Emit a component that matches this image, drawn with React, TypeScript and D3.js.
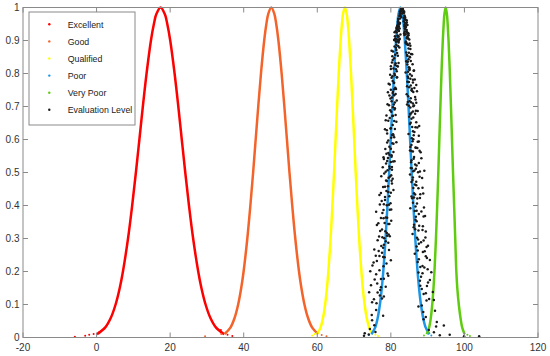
import React from 'react';
import * as d3 from 'd3';

const W = 550;
const H = 356;
const PL = 23, PR = 538, PT = 7.5, PB = 337.5;

const xTicks = [-20, 0, 20, 40, 60, 80, 100, 120];
const yTicks = [0, 0.1, 0.2, 0.3, 0.4, 0.5, 0.6, 0.7, 0.8, 0.9, 1];
const yTickLabels = ['0', '0.1', '0.2', '0.3', '0.4', '0.5', '0.6', '0.7', '0.8', '0.9', '1'];

const levelNames = ['Excellent', 'Good', 'Qualified', 'Poor', 'Very Poor'];
const levelColors = ['#ff0000', '#f4632a', '#ffff00', '#1e96e6', '#5fcc10'];
const blackName = 'Evaluation Level';
const blackColor = '#1a1a1a';

// membership levels of the branch samples
const branchY = [0.01, 0.03, 0.06, 0.1, 0.15, 0.2, 0.3, 0.4, 0.5, 0.6, 0.7, 0.8, 0.9, 0.95, 0.98];

const excellentLeft = [0.10, 2.31, 3.88, 5.17, 6.30, 7.17, 8.55, 9.68, 10.69, 11.64, 12.58, 13.59, 14.78, 15.58, 16.25];
const excellentPeak = 17.4;
const excellentRight = [34.70, 32.49, 30.92, 29.63, 28.50, 27.63, 26.25, 25.12, 24.11, 23.16, 22.22, 21.21, 20.02, 19.22, 18.55];

const goodLeft = [34.75, 36.38, 37.54, 38.49, 39.32, 39.97, 40.98, 41.81, 42.56, 43.25, 43.95, 44.69, 45.57, 46.16, 46.66];
const goodPeak = 47.5;
const goodRight = [60.25, 58.62, 57.46, 56.51, 55.68, 55.03, 54.02, 53.19, 52.44, 51.75, 51.05, 50.31, 49.43, 48.84, 48.34];

const qualifiedLeft = [59.91, 60.88, 61.57, 62.13, 62.63, 63.01, 63.62, 64.11, 64.56, 64.97, 65.39, 65.83, 66.35, 66.70, 67.00];
const qualifiedPeak = 67.5;
const qualifiedRight = [75.09, 74.12, 73.43, 72.87, 72.37, 71.99, 71.38, 70.89, 70.44, 70.03, 69.61, 69.17, 68.65, 68.30, 68.00];

const poorLeft = [74.71, 75.72, 76.43, 77.02, 77.54, 77.94, 78.56, 79.08, 79.54, 79.97, 80.40, 80.86, 81.41, 81.77, 82.08];
const poorPeak = 82.6;
const poorRight = [90.49, 89.48, 88.77, 88.18, 87.66, 87.26, 86.64, 86.12, 85.66, 85.23, 84.80, 84.34, 83.79, 83.43, 83.12];

const veryPoorLeft = [89.74, 90.40, 90.87, 91.25, 91.59, 91.85, 92.26, 92.60, 92.90, 93.18, 93.46, 93.76, 94.12, 94.36, 94.56];
const veryPoorPeak = 94.9;
const veryPoorRight = [100.06, 99.40, 98.93, 98.47, 98.06, 97.80, 97.50, 97.20, 96.90, 96.62, 96.34, 96.04, 95.68, 95.44, 95.24];

// sparse drops in the tails
const excellentTail = [[-5.9, 0.0], [-3.1, 0.003], [-2.0, 0.006], [-0.8, 0.008], [0.6, 0.013], [33.8, 0.02], [35.6, 0.006], [36.9, 0.002]];
const goodTail = [[29.5, 0.001], [33.9, 0.008], [35.2, 0.012], [61.2, 0.005], [62.5, 0.001]];
const qualifiedTail = [[58.6, 0.004], [59.3, 0.008], [75.8, 0.006], [76.5, 0.002]];
const poorTail = [[74.0, 0.005], [91.0, 0.004]];
const veryPoorTail = [[89.0, 0.004], [100.8, 0.006], [101.5, 0.002]];

// evaluation level cloud drops [x, y]
const evaluationDrops = [
  [83.2, 0.998], [82.8, 0.996],
  [82.6, 0.992], [83.5, 0.988], [83.3, 0.993], [82.4, 0.987],
  [83.4, 0.986], [82.5, 0.981], [83.6, 0.988], [82.6, 0.983],
  [82.3, 0.974], [83.5, 0.968], [83.8, 0.972], [82.0, 0.966], [82.6, 0.975],
  [83.7, 0.964], [82.0, 0.957], [82.5, 0.967], [83.8, 0.954], [84.3, 0.961],
  [82.2, 0.942], [84.3, 0.955], [83.7, 0.948], [82.0, 0.959], [83.9, 0.945], [82.5, 0.953],
  [81.8, 0.946], [83.8, 0.937], [84.1, 0.941], [81.6, 0.934], [82.1, 0.947], [83.7, 0.943],
  [84.4, 0.925], [81.9, 0.934], [83.8, 0.927], [81.8, 0.939], [84.8, 0.921], [82.0, 0.931],
  [81.6, 0.924], [83.7, 0.917], [84.2, 0.927], [82.0, 0.914], [84.6, 0.921], [82.1, 0.912], [81.0, 0.925],
  [84.3, 0.908], [81.8, 0.915], [82.3, 0.904], [84.5, 0.913], [81.2, 0.906], [84.0, 0.919],
  [81.6, 0.904], [84.1, 0.897], [84.7, 0.907], [82.1, 0.894], [81.0, 0.901], [84.3, 0.892], [82.4, 0.905],
  [81.4, 0.878], [84.3, 0.889], [85.3, 0.874], [82.0, 0.883], [84.8, 0.876], [81.5, 0.887],
  [81.7, 0.862], [85.1, 0.851], [84.2, 0.864], [81.2, 0.857], [80.2, 0.869], [84.5, 0.853],
  [84.8, 0.843], [82.1, 0.832], [80.9, 0.846], [84.5, 0.835], [80.5, 0.841], [84.2, 0.837], [85.2, 0.849],
  [81.2, 0.826], [85.1, 0.817], [84.5, 0.827], [80.0, 0.814], [81.9, 0.821], [85.0, 0.812],
  [84.7, 0.805], [80.4, 0.792], [81.6, 0.807], [85.2, 0.798], [86.3, 0.809], [81.1, 0.795], [84.0, 0.803],
  [80.5, 0.777], [84.7, 0.786], [80.9, 0.772], [86.0, 0.781], [84.9, 0.774], [81.6, 0.788],
  [85.4, 0.764], [81.2, 0.757], [79.7, 0.767], [85.7, 0.754], [84.4, 0.761], [80.9, 0.752], [86.9, 0.765],
  [81.3, 0.738], [85.6, 0.749], [80.8, 0.735], [86.1, 0.744], [84.3, 0.737], [80.6, 0.745],
  [79.9, 0.724], [85.1, 0.717], [80.3, 0.727], [84.6, 0.714], [86.7, 0.721], [81.1, 0.712], [85.4, 0.725],
  [80.6, 0.698], [86.0, 0.709], [81.1, 0.695], [79.5, 0.704], [85.3, 0.697], [84.4, 0.706], [86.1, 0.701],
  [80.1, 0.684], [85.2, 0.677], [86.8, 0.687], [81.3, 0.674], [85.6, 0.681], [80.6, 0.672],
  [79.7, 0.665], [85.0, 0.669], [78.6, 0.658], [85.6, 0.663], [81.5, 0.654], [86.1, 0.667],
  [80.5, 0.644], [86.7, 0.637], [85.2, 0.647], [80.0, 0.634], [87.7, 0.641], [81.1, 0.632],
  [86.0, 0.625], [80.3, 0.614], [78.9, 0.628], [84.8, 0.617], [86.4, 0.623], [80.7, 0.612],
  [85.7, 0.604], [79.3, 0.597], [80.9, 0.607], [87.6, 0.594], [86.1, 0.601], [81.5, 0.592], [80.1, 0.605],
  [79.6, 0.578], [85.6, 0.583], [87.2, 0.574], [80.7, 0.587], [86.8, 0.575],
  [86.0, 0.564], [78.8, 0.557], [85.2, 0.567], [79.6, 0.554], [88.1, 0.561], [80.2, 0.552],
  [79.2, 0.544], [85.6, 0.537], [86.3, 0.547], [81.0, 0.534], [78.1, 0.541], [80.0, 0.532],
  [86.6, 0.524], [80.3, 0.517], [78.7, 0.527], [85.4, 0.514], [87.0, 0.521], [79.7, 0.512],
  [86.1, 0.504], [78.2, 0.497], [79.1, 0.507], [85.2, 0.494], [87.4, 0.501], [80.1, 0.492], [89.1, 0.505],
  [79.4, 0.484], [85.9, 0.477], [87.8, 0.487], [78.9, 0.474], [80.5, 0.481],
  [86.5, 0.464], [78.4, 0.457], [80.3, 0.467], [88.6, 0.454], [86.9, 0.461],
  [78.8, 0.444], [86.3, 0.437], [80.7, 0.447], [88.0, 0.434], [79.3, 0.441], [76.9, 0.432],
  [86.3, 0.424], [78.4, 0.417], [85.6, 0.427], [77.5, 0.414], [87.2, 0.421],
  [78.1, 0.404], [86.7, 0.397], [79.9, 0.407], [89.0, 0.394], [78.9, 0.401], [85.3, 0.392],
  [87.0, 0.384], [77.7, 0.377], [79.7, 0.387], [87.6, 0.374], [76.0, 0.381],
  [78.6, 0.364], [86.7, 0.357], [88.9, 0.367], [80.1, 0.354], [78.0, 0.361], [87.0, 0.352],
  [79.3, 0.344], [88.7, 0.337], [78.3, 0.347], [86.2, 0.334], [76.2, 0.341],
  [87.5, 0.324], [78.9, 0.317], [77.6, 0.327], [85.9, 0.314], [89.5, 0.321], [79.4, 0.312],
  [77.7, 0.304], [87.4, 0.297], [79.7, 0.307], [88.9, 0.294], [78.2, 0.301],
  [87.6, 0.284], [77.4, 0.277], [79.3, 0.287], [89.7, 0.274], [78.1, 0.281],
  [87.3, 0.264], [77.6, 0.257], [75.5, 0.267], [86.5, 0.254], [89.2, 0.261],
  [77.9, 0.244], [87.6, 0.237], [76.9, 0.247], [80.0, 0.234], [89.8, 0.241],
  [78.8, 0.224], [88.6, 0.217], [75.3, 0.227], [88.0, 0.214],
  [76.9, 0.204], [87.5, 0.197], [90.0, 0.207], [79.1, 0.194], [74.4, 0.201],
  [88.2, 0.184], [77.3, 0.177], [79.3, 0.187], [90.6, 0.174],
  [76.3, 0.164], [88.0, 0.157], [90.1, 0.167], [78.6, 0.154],
  [77.1, 0.144], [74.1, 0.137], [88.4, 0.147], [89.5, 0.134],
  [78.1, 0.124], [90.4, 0.117], [77.0, 0.127], [91.7, 0.114],
  [76.1, 0.104], [88.4, 0.097], [74.9, 0.107], [87.5, 0.094],
  [76.0, 0.083], [88.8, 0.077], [92.0, 0.081],
  [74.8, 0.068], [89.5, 0.062], [77.9, 0.066],
  [74.9, 0.052], [92.5, 0.047], [88.9, 0.055],
  [75.5, 0.037], [92.3, 0.033], [94.4, 0.036],
  [74.3, 0.026], [90.3, 0.023],
  [91.7, 0.016], [72.9, 0.013], [75.8, 0.017],
  [96.0, 0.008], [74.0, 0.009], [93.3, 0.007],
  [99.9, 0.004], [72.7, 0.005], [104.0, 0.004],
  [82.7, 0.989], [83.4, 0.985], [82.9, 0.991], [83.6, 0.984],
  [82.4, 0.98], [83.7, 0.976], [83.1, 0.982], [82.6, 0.977],
  [83.9, 0.969], [82.1, 0.965], [82.8, 0.971], [84.0, 0.963],
  [82.0, 0.952], [83.5, 0.958], [84.2, 0.951], [81.9, 0.956],
  [84.0, 0.944], [82.3, 0.949], [81.7, 0.943], [84.5, 0.947],
  [82.4, 0.936], [84.3, 0.932], [81.5, 0.938], [83.9, 0.935],
  [81.3, 0.928], [84.6, 0.923], [82.2, 0.929], [83.6, 0.922],
  [84.8, 0.916], [81.9, 0.911], [82.6, 0.918], [81.1, 0.913],
  [80.9, 0.902], [84.4, 0.906], [82.2, 0.899], [85.0, 0.903],
  [84.0, 0.893], [81.4, 0.896], [85.1, 0.891], [81.8, 0.898],
  [81.0, 0.882], [84.7, 0.886], [82.3, 0.879], [85.3, 0.884],
  [80.6, 0.867], [84.9, 0.863], [81.5, 0.871], [85.5, 0.859],
  [84.4, 0.856], [80.4, 0.852], [85.8, 0.858], [81.9, 0.854],
  [80.3, 0.833], [85.4, 0.838], [81.3, 0.831], [84.6, 0.836],
  [81.7, 0.823], [85.9, 0.828], [80.0, 0.822], [84.9, 0.819],
  [85.1, 0.811], [80.7, 0.815], [86.2, 0.808], [81.4, 0.813],
  [79.8, 0.796], [84.6, 0.791], [81.0, 0.799], [85.7, 0.793],
  [85.3, 0.784], [80.2, 0.787], [86.5, 0.782], [81.7, 0.789],
  [80.8, 0.771], [84.5, 0.775], [79.4, 0.769], [86.0, 0.773],
  [86.4, 0.756], [81.4, 0.753], [85.0, 0.758], [80.0, 0.751],
  [79.2, 0.743], [85.8, 0.747], [80.5, 0.741], [87.1, 0.746],
  [84.7, 0.731], [80.9, 0.734], [86.6, 0.729], [79.6, 0.733],
  [80.2, 0.716], [85.5, 0.713], [81.6, 0.718], [86.9, 0.711],
  [86.3, 0.703], [79.1, 0.707], [84.9, 0.702], [80.8, 0.706],
  [79.8, 0.689], [86.0, 0.685], [81.0, 0.691], [87.3, 0.686],
  [85.3, 0.676], [78.8, 0.673], [86.6, 0.678], [80.4, 0.671],
  [80.9, 0.656], [86.9, 0.652], [79.3, 0.657], [85.4, 0.651],
  [87.2, 0.636], [79.9, 0.633], [85.8, 0.638], [78.4, 0.631],
  [80.6, 0.616], [86.2, 0.613], [79.0, 0.618], [87.6, 0.611],
  [79.0, 0.591], [85.9, 0.595], [80.4, 0.589], [87.3, 0.593],
  [86.7, 0.576], [78.5, 0.571], [85.3, 0.577], [80.0, 0.572],
  [80.7, 0.562], [87.8, 0.566], [79.3, 0.559], [85.6, 0.565],
  [78.0, 0.546], [86.2, 0.542], [80.2, 0.548], [88.3, 0.543],
  [85.5, 0.531], [79.0, 0.535], [87.6, 0.529], [80.6, 0.533],
  [77.8, 0.516], [86.8, 0.511], [79.6, 0.518], [85.7, 0.513],
  [87.9, 0.503], [80.3, 0.508], [78.6, 0.502], [86.4, 0.506],
  [79.8, 0.488], [86.0, 0.485], [77.4, 0.489], [88.5, 0.483],
  [86.9, 0.472], [78.7, 0.476], [85.6, 0.471], [80.2, 0.475],
  [77.9, 0.456], [87.5, 0.452], [79.2, 0.458], [86.1, 0.453],
  [88.8, 0.436], [80.0, 0.439], [86.6, 0.433], [77.3, 0.438],
  [78.4, 0.426], [85.8, 0.422], [79.6, 0.428], [87.9, 0.423],
  [87.1, 0.406], [77.0, 0.403], [86.0, 0.408], [79.5, 0.402],
  [78.0, 0.386], [88.3, 0.382], [80.1, 0.388], [86.5, 0.383],
  [86.8, 0.366], [77.3, 0.362], [89.3, 0.368], [79.0, 0.363],
  [79.6, 0.344], [87.7, 0.339], [76.6, 0.346], [86.3, 0.342],
  [88.6, 0.326], [78.5, 0.322], [86.6, 0.328], [77.1, 0.323],
  [76.8, 0.306], [87.1, 0.302], [79.0, 0.308], [89.4, 0.303],
  [78.6, 0.292], [88.2, 0.289], [76.4, 0.295],
  [87.0, 0.276], [77.9, 0.272], [90.1, 0.278],
  [76.7, 0.262], [88.7, 0.259], [79.5, 0.265],
  [89.5, 0.246], [78.3, 0.243], [75.9, 0.248],
  [76.2, 0.232], [87.3, 0.229], [90.6, 0.235],
  [78.0, 0.216], [89.1, 0.212], [75.0, 0.218],
  [88.6, 0.195], [76.0, 0.192], [91.0, 0.198],
  [75.6, 0.176], [87.9, 0.172], [78.1, 0.178],
  [89.8, 0.156], [77.3, 0.152], [74.6, 0.158],
  [76.4, 0.136], [88.9, 0.132], [91.4, 0.138],
  [75.4, 0.116], [89.7, 0.112], [77.6, 0.118],
];

const levelLefts = [excellentLeft, goodLeft, qualifiedLeft, poorLeft, veryPoorLeft];
const levelPeaks = [excellentPeak, goodPeak, qualifiedPeak, poorPeak, veryPoorPeak];
const levelRights = [excellentRight, goodRight, qualifiedRight, poorRight, veryPoorRight];
const levelTails = [excellentTail, goodTail, qualifiedTail, poorTail, veryPoorTail];

const FONT = '"Liberation Sans", Arial, Helvetica, sans-serif';
const AXIS = '#8a8a8a';
const LABEL = '#333333';

export default function App() {
  const x = d3.scaleLinear().domain([-20, 120]).range([PL, PR]);
  const y = d3.scaleLinear().domain([0, 1]).range([PB, PT]);

  const line = d3
    .line<[number, number]>()
    .x((d) => x(d[0]))
    .y((d) => y(d[1]))
    .curve(d3.curveCatmullRom.alpha(0.5));

  const curves = levelNames.map((_, i) => {
    const pts: [number, number][] = [];
    levelLefts[i].forEach((v, j) => pts.push([v, branchY[j]]));
    pts.push([levelPeaks[i], 1]);
    for (let j = branchY.length - 1; j >= 0; j--) pts.push([levelRights[i][j], branchY[j]]);
    return line(pts) || '';
  });

  const tickLen = 5;
  const legendX = 29, legendY = 12, legendW = 106, legendH = 113;
  const legendEntries = [...levelNames, blackName];
  const legendColors = [...levelColors, blackColor];

  return (
    <svg
      width={W}
      height={H}
      style={{ position: 'absolute', left: 0, top: 0, background: '#fff' }}
      fontFamily={FONT}
    >
      <rect x={0} y={0} width={W} height={H} fill="#fff" />
      <defs>
        <clipPath id="plot">
          <rect x={PL} y={PT - 2} width={PR - PL} height={PB - PT + 2} />
        </clipPath>
      </defs>

      <g clipPath="url(#plot)">
        {curves.map((d, i) => (
          <path key={i} d={d} fill="none" stroke={levelColors[i]} strokeWidth={2.5} strokeLinejoin="round" />
        ))}
        {levelTails.map((tail, i) =>
          tail.map((p, j) => (
            <circle key={`t${i}-${j}`} cx={x(p[0])} cy={y(p[1]) - 0.8} r={1} fill={levelColors[i]} />
          ))
        )}
        {evaluationDrops.map((p, j) => (
          <circle key={`b${j}`} cx={x(p[0])} cy={y(p[1])} r={1.25} fill={blackColor} />
        ))}
      </g>

      <rect x={PL} y={PT} width={PR - PL} height={PB - PT} fill="none" stroke={AXIS} strokeWidth={1} />
      {xTicks.map((t) => (
        <g key={`xt${t}`}>
          <line x1={x(t)} x2={x(t)} y1={PB} y2={PB - tickLen} stroke={AXIS} />
          <line x1={x(t)} x2={x(t)} y1={PT} y2={PT + tickLen} stroke={AXIS} />
          <text x={x(t)} y={351} textAnchor="middle" fontSize={10} fill={LABEL}>
            {t}
          </text>
        </g>
      ))}
      {yTicks.map((t, i) => (
        <g key={`yt${t}`}>
          <line x1={PL} x2={PL + tickLen} y1={y(t)} y2={y(t)} stroke={AXIS} />
          <line x1={PR} x2={PR - tickLen} y1={y(t)} y2={y(t)} stroke={AXIS} />
          <text x={19.5} y={y(t) + 3.5} textAnchor="end" fontSize={10} fill={LABEL}>
            {yTickLabels[i]}
          </text>
        </g>
      ))}

      <rect x={legendX} y={legendY} width={legendW} height={legendH} fill="#fff" stroke={AXIS} strokeWidth={1} />
      {legendEntries.map((name, i) => {
        const cy = 24.3 + i * 17.1;
        return (
          <g key={name}>
            <circle cx={49.3} cy={cy} r={1.2} fill={legendColors[i]} />
            <text x={67.7} y={cy + 3.2} fontSize={8.8} fill="#222">
              {name}
            </text>
          </g>
        );
      })}
    </svg>
  );
}
